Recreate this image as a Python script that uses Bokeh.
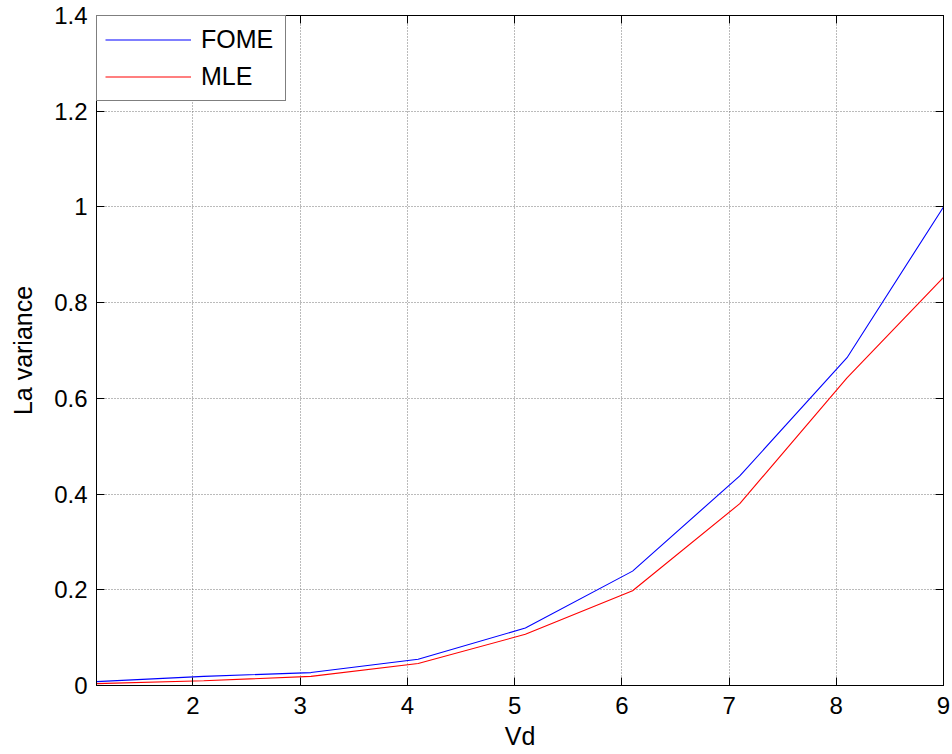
from bokeh.plotting import figure
from bokeh.models import Range1d, LinearAxis, FixedTicker, Legend, LegendItem, CustomJSTickFormatter
from bokeh.embed import file_html
from bokeh.resources import INLINE

vd = [1.1, 2.1, 3.1, 4.1, 5.1, 6.1, 7.1, 8.1, 9.0]
fome = [0.008, 0.019, 0.027, 0.055, 0.120, 0.239, 0.438, 0.685, 1.000]
mle = [0.004, 0.010, 0.019, 0.046, 0.107, 0.198, 0.380, 0.643, 0.853]
x_ticks = [2, 3, 4, 5, 6, 7, 8, 9]
y_ticks = [0, 0.2, 0.4, 0.6, 0.8, 1.0, 1.2, 1.4]
y_labels = {0: "0", 0.2: "0.2", 0.4: "0.4", 0.6: "0.6", 0.8: "0.8", 1.0: "1", 1.2: "1.2", 1.4: "1.4"}

FONT = "Liberation Sans"
FS = "24px"

p = figure(width=950, height=754, output_backend="svg", toolbar_location=None,
           x_range=Range1d(1.1, 9.0), y_range=Range1d(0, 1.4),
           min_border_left=96, min_border_top=15, min_border_right=7, min_border_bottom=69,
           x_axis_label="Vd", y_axis_label="La variance")
p.background_fill_color = "white"
p.border_fill_color = "white"
p.outline_line_color = "black"
p.outline_line_width = 1

r1 = p.line(vd, fome, line_color="#0000ff", line_width=1.1)
r2 = p.line(vd, mle, line_color="#ff0000", line_width=1.1)

for ax in (p.xaxis[0], p.yaxis[0]):
    ax.major_tick_in = 8
    ax.major_tick_out = 0
    ax.minor_tick_in = 0
    ax.minor_tick_out = 0
    ax.axis_line_color = "black"
    ax.major_tick_line_color = "black"
    ax.major_label_text_font = FONT
    ax.major_label_text_font_size = FS
    ax.major_label_text_color = "black"
    ax.axis_label_text_font = FONT
    ax.axis_label_text_font_size = "25px"
    ax.axis_label_text_font_style = "normal"
    ax.axis_label_text_color = "black"

p.xaxis[0].ticker = FixedTicker(ticks=x_ticks)
p.yaxis[0].ticker = FixedTicker(ticks=y_ticks)
p.yaxis[0].major_label_overrides = {k: v for k, v in y_labels.items()}
p.xaxis[0].major_label_standoff = 11
p.yaxis[0].major_label_standoff = 9
p.xaxis[0].axis_label_standoff = 5
p.yaxis[0].axis_label_standoff = 14

for loc, ticks in (("above", x_ticks), ("right", y_ticks)):
    ax = LinearAxis(ticker=FixedTicker(ticks=ticks),
                    formatter=CustomJSTickFormatter(code="return '';"))
    ax.major_tick_in = 8
    ax.major_tick_out = 0
    ax.minor_tick_in = 0
    ax.minor_tick_out = 0
    ax.major_label_standoff = 0
    ax.axis_line_color = "black"
    ax.major_tick_line_color = "black"
    p.add_layout(ax, loc)

p.xgrid.ticker = FixedTicker(ticks=x_ticks)
p.ygrid.ticker = FixedTicker(ticks=y_ticks)
p.grid.grid_line_color = "#777777"
p.grid.grid_line_dash = "1 2"
p.grid.grid_line_width = 1

legend = Legend(items=[LegendItem(label="FOME", renderers=[r1]),
                       LegendItem(label="MLE", renderers=[r2])],
                location="top_left")
legend.margin = 0
legend.padding = 8
legend.spacing = 6
legend.glyph_width = 86
legend.glyph_height = 31
legend.label_height = 31
legend.label_width = 76
legend.label_standoff = 10
legend.label_text_font = FONT
legend.label_text_font_size = "25px"
legend.label_text_color = "black"
legend.border_line_color = "black"
legend.border_line_width = 1.5
legend.background_fill_color = "white"
legend.background_fill_alpha = 1
p.add_layout(legend, "center")

open("out.html", "w").write(file_html(p, INLINE))
